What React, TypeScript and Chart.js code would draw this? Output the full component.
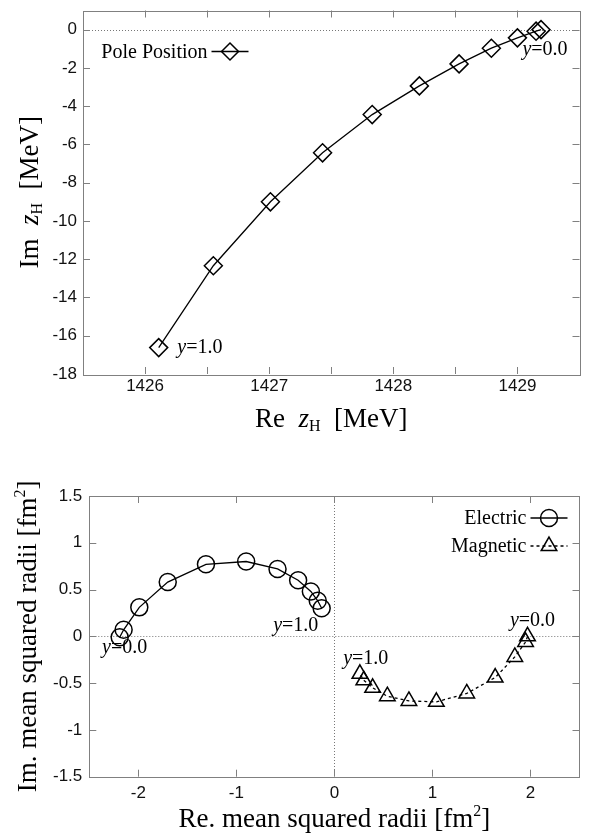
import React, { useEffect, useRef } from 'react';
import { Chart, registerables } from 'chart.js';

Chart.register(...registerables);

// ---------- data ----------
const poleRe = [1426.11, 1426.55, 1427.01, 1427.43, 1427.83, 1428.21, 1428.53, 1428.79, 1429.0, 1429.15, 1429.19];
const poleIm = [-16.62, -12.34, -9.0, -6.44, -4.44, -2.94, -1.79, -0.97, -0.43, -0.08, 0.0];

const elecRe = [-2.19, -2.15, -1.99, -1.7, -1.31, -0.9, -0.58, -0.37, -0.24, -0.17, -0.13];
const elecIm = [-0.01, 0.07, 0.31, 0.58, 0.77, 0.8, 0.72, 0.6, 0.48, 0.38, 0.3];
const magRe = [1.97, 1.95, 1.84, 1.64, 1.35, 1.04, 0.76, 0.54, 0.39, 0.3, 0.26];
const magIm = [0.0, -0.06, -0.22, -0.44, -0.61, -0.7, -0.69, -0.64, -0.55, -0.47, -0.4];

const topXTicks = [1425.5, 1426, 1426.5, 1427, 1427.5, 1428, 1428.5, 1429, 1429.5];
const topYTicks = [0, -2, -4, -6, -8, -10, -12, -14, -16, -18];
const botXTicks = [-2, -1, 0, 1, 2];
const botYTicks = [1.5, 1, 0.5, 0, -0.5, -1, -1.5];

const topNotes = [
  { x: 1429.04, y: -1.04, t: '=0.0' },
  { x: 1426.26, y: -16.64, t: '=1.0' },
];
const botNotes = [
  { x: -0.625, y: 0.118, t: '=1.0' },
  { x: -2.37, y: -0.118, t: '=0.0' },
  { x: 0.089, y: -0.235, t: '=1.0' },
  { x: 1.79, y: 0.171, t: '=0.0' },
];

// ---------- styling helpers ----------
const SERIF = '"Liberation Serif", "DejaVu Serif", "Times New Roman", serif';
const SANS = '"Liberation Sans", Arial, Helvetica, sans-serif';
const FRAME = '#808080';

type Seg = { t: string; italic?: boolean; size: number; dy?: number };

function drawRich(ctx: CanvasRenderingContext2D, segs: Seg[], x: number, y: number, align: 'left' | 'center' | 'right', baseline: CanvasTextBaseline = 'alphabetic') {
  ctx.save();
  ctx.textBaseline = baseline;
  ctx.textAlign = 'left';
  ctx.fillStyle = '#000';
  let total = 0;
  const widths = segs.map((s) => {
    ctx.font = `${s.italic ? 'italic ' : ''}${s.size}px ${SERIF}`;
    const w = ctx.measureText(s.t).width;
    total += w;
    return w;
  });
  let cx = align === 'left' ? x : align === 'center' ? x - total / 2 : x - total;
  segs.forEach((s, i) => {
    ctx.font = `${s.italic ? 'italic ' : ''}${s.size}px ${SERIF}`;
    ctx.fillText(s.t, cx, y + (s.dy || 0));
    cx += widths[i];
  });
  ctx.restore();
}

function marker(ctx: CanvasRenderingContext2D, kind: string, x: number, y: number, r: number) {
  ctx.beginPath();
  if (kind === 'diamond') {
    ctx.moveTo(x - r, y);
    ctx.lineTo(x, y - r);
    ctx.lineTo(x + r, y);
    ctx.lineTo(x, y + r);
    ctx.closePath();
  } else if (kind === 'circle') {
    ctx.arc(x, y, r, 0, Math.PI * 2);
  } else {
    for (let k = 0; k < 3; k++) {
      const a = (k * 2 * Math.PI) / 3;
      const px = x + Math.sin(a) * r;
      const py = y - Math.cos(a) * r;
      if (k === 0) ctx.moveTo(px, py);
      else ctx.lineTo(px, py);
    }
    ctx.closePath();
  }
  ctx.stroke();
}

type FrameCfg = {
  xTicks: number[];
  yTicks: number[];
  zeroX: boolean;
  zeroY: boolean;
  notes: { x: number; y: number; t: string }[];
  legend: { label: string; kind: string; r: number; dash: number[] }[];
  legendRight: number;
  legendTop: number;
  legendStep: number;
  xTitle: Seg[];
  xTitleY: number;
  yTitle: Seg[];
  yTitleX: number;
};

function makePlugin(cfg: FrameCfg) {
  return {
    id: 'gnuframe',
    beforeDatasetsDraw(chart: any) {
      const { ctx, chartArea: a, scales } = chart;
      const xs = scales.x;
      const ys = scales.y;
      ctx.save();
      // zero lines
      ctx.strokeStyle = '#777';
      ctx.lineWidth = 1;
      ctx.setLineDash([1, 2]);
      if (cfg.zeroY) {
        const py = Math.round(ys.getPixelForValue(0)) + 0.5;
        ctx.beginPath();
        ctx.moveTo(a.left, py);
        ctx.lineTo(a.right, py);
        ctx.stroke();
      }
      if (cfg.zeroX) {
        const px = Math.round(xs.getPixelForValue(0)) + 0.5;
        ctx.beginPath();
        ctx.moveTo(px, a.top);
        ctx.lineTo(px, a.bottom);
        ctx.stroke();
      }
      ctx.setLineDash([]);
      // frame
      ctx.strokeStyle = FRAME;
      ctx.lineWidth = 1;
      ctx.strokeRect(Math.round(a.left) + 0.5, Math.round(a.top) + 0.5, Math.round(a.right - a.left), Math.round(a.bottom - a.top));
      // inward ticks
      const L = 7;
      ctx.beginPath();
      cfg.xTicks.forEach((v) => {
        if (v <= xs.min || v >= xs.max) return;
        const px = Math.round(xs.getPixelForValue(v)) + 0.5;
        ctx.moveTo(px, a.bottom);
        ctx.lineTo(px, a.bottom - L);
        ctx.moveTo(px, a.top);
        ctx.lineTo(px, a.top + L);
      });
      cfg.yTicks.forEach((v) => {
        if (v <= ys.min || v >= ys.max) return;
        const py = Math.round(ys.getPixelForValue(v)) + 0.5;
        ctx.moveTo(a.left, py);
        ctx.lineTo(a.left + L, py);
        ctx.moveTo(a.right, py);
        ctx.lineTo(a.right - L, py);
      });
      ctx.stroke();
      ctx.restore();
    },
    afterDatasetsDraw(chart: any) {
      const { ctx, chartArea: a, scales } = chart;
      const xs = scales.x;
      const ys = scales.y;
      // annotations
      cfg.notes.forEach((n) => {
        drawRich(
          ctx,
          [
            { t: 'y', italic: true, size: 20 },
            { t: n.t, size: 20 },
          ],
          xs.getPixelForValue(n.x),
          ys.getPixelForValue(n.y),
          'left',
          'middle'
        );
      });
      // legend
      ctx.save();
      ctx.strokeStyle = '#000';
      cfg.legend.forEach((l, i) => {
        const cy = a.top + cfg.legendTop + i * cfg.legendStep;
        drawRich(ctx, [{ t: l.label, size: 20 }], a.right - cfg.legendRight, cy + 6, 'right');
        const x0 = a.right - cfg.legendRight + 4;
        const x1 = x0 + 37;
        ctx.lineWidth = 1.3;
        ctx.setLineDash(l.dash);
        ctx.beginPath();
        ctx.moveTo(x0, cy);
        ctx.lineTo(x1, cy);
        ctx.stroke();
        ctx.setLineDash([]);
        ctx.lineWidth = 1.5;
        marker(ctx, l.kind, (x0 + x1) / 2, cy, l.r);
      });
      ctx.restore();
      // titles
      drawRich(ctx, cfg.xTitle, (a.left + a.right) / 2, cfg.xTitleY, 'center');
      ctx.save();
      ctx.translate(cfg.yTitleX, (a.top + a.bottom) / 2);
      ctx.rotate(-Math.PI / 2);
      drawRich(ctx, cfg.yTitle, 0, 0, 'center');
      ctx.restore();
    },
  };
}

function axisOpts(min: number, max: number, tickVals: number[], horizontal: boolean, size: number, pad: number, labelFn: (v: number) => string) {
  return {
    type: 'linear' as const,
    min,
    max,
    grid: { display: false, drawTicks: false },
    border: { display: false },
    ticks: {
      padding: pad,
      autoSkip: false,
      maxRotation: 0,
      color: '#111',
      font: { family: SANS, size: 17 },
      callback: (v: any) => labelFn(Number(v)),
    },
    afterBuildTicks: (s: any) => {
      s.ticks = tickVals.map((v) => ({ value: v }));
    },
    afterFit: (s: any) => {
      if (horizontal) {
        s.height = size;
        s.paddingLeft = 0;
        s.paddingRight = 0;
      } else {
        s.width = size;
        s.paddingTop = 0;
        s.paddingBottom = 0;
      }
    },
  };
}

export default function App() {
  const ref1 = useRef<HTMLCanvasElement>(null);
  const ref2 = useRef<HTMLCanvasElement>(null);

  useEffect(() => {
    const c1 = new Chart(ref1.current as HTMLCanvasElement, {
      type: 'scatter',
      data: {
        datasets: [
          {
            label: 'Pole Position',
            data: poleRe.map((x, i) => ({ x, y: poleIm[i] })),
            showLine: true,
            borderColor: '#000',
            borderWidth: 1.3,
            pointStyle: 'rectRot',
            pointRadius: 9,
            pointBorderWidth: 1.5,
            pointBorderColor: '#000',
            pointBackgroundColor: 'rgba(0,0,0,0)',
            tension: 0,
            clip: false,
          } as any,
        ],
      },
      options: {
        responsive: false,
        animation: false,
        devicePixelRatio: 1,
        layout: { padding: { top: 3, right: 10, left: 0, bottom: 0 } },
        plugins: { legend: { display: false }, tooltip: { enabled: false } },
        scales: {
          x: axisOpts(1425.5, 1429.5, topXTicks, true, 66, 2, (v) => (Number.isInteger(v) ? String(v) : '')) as any,
          y: axisOpts(-18, 1, topYTicks, false, 83, 6, (v) => String(v)) as any,
        },
      },
      plugins: [
        makePlugin({
          xTicks: topXTicks,
          yTicks: topYTicks,
          zeroX: false,
          zeroY: true,
          notes: topNotes,
          legend: [{ label: 'Pole Position', kind: 'diamond', r: 8.5, dash: [] }],
          legendRight: 372,
          legendTop: 41,
          legendStep: 0,
          xTitle: [
            { t: 'Re  ', size: 27 },
            { t: 'z', italic: true, size: 27 },
            { t: 'H', size: 16, dy: 4 },
            { t: '  [MeV]', size: 27 },
          ],
          xTitleY: 427,
          yTitle: [
            { t: 'Im  ', size: 27 },
            { t: 'z', italic: true, size: 27 },
            { t: 'H', size: 16, dy: 4 },
            { t: '  [MeV]', size: 27 },
          ],
          yTitleX: 38,
        }) as any,
      ],
    });

    const c2 = new Chart(ref2.current as HTMLCanvasElement, {
      type: 'scatter',
      data: {
        datasets: [
          {
            label: 'Electric',
            data: elecRe.map((x, i) => ({ x, y: elecIm[i] })),
            showLine: true,
            borderColor: '#000',
            borderWidth: 1.3,
            pointStyle: 'circle',
            pointRadius: 8.5,
            pointBorderWidth: 1.5,
            pointBorderColor: '#000',
            pointBackgroundColor: 'rgba(0,0,0,0)',
            tension: 0,
            clip: false,
          } as any,
          {
            label: 'Magnetic',
            data: magRe.map((x, i) => ({ x, y: magIm[i] })),
            showLine: true,
            borderColor: '#000',
            borderWidth: 1.3,
            borderDash: [3, 3],
            pointStyle: 'triangle',
            pointRadius: 9,
            pointBorderWidth: 1.5,
            pointBorderColor: '#000',
            pointBackgroundColor: 'rgba(0,0,0,0)',
            tension: 0,
            clip: false,
          } as any,
        ],
      },
      options: {
        responsive: false,
        animation: false,
        devicePixelRatio: 1,
        layout: { padding: { top: 56, right: 10, left: 0, bottom: 0 } },
        plugins: { legend: { display: false }, tooltip: { enabled: false } },
        scales: {
          x: axisOpts(-2.5, 2.5, botXTicks, true, 62.3, 6, (v) => (Number.isInteger(v) ? String(v) : '')) as any,
          y: axisOpts(-1.5, 1.5, botYTicks, false, 89.3, 7, (v) => String(v)) as any,
        },
      },
      plugins: [
        makePlugin({
          xTicks: botXTicks,
          yTicks: botYTicks,
          zeroX: true,
          zeroY: true,
          notes: botNotes,
          legend: [
            { label: 'Electric', kind: 'circle', r: 8.5, dash: [] },
            { label: 'Magnetic', kind: 'triangle', r: 9, dash: [3, 3] },
          ],
          legendRight: 53,
          legendTop: 22,
          legendStep: 28,
          xTitle: [
            { t: 'Re. mean squared radii [fm', size: 27 },
            { t: '2', size: 16, dy: -11 },
            { t: ']', size: 27 },
          ],
          xTitleY: 387,
          yTitle: [
            { t: 'Im. mean squared radii [fm', size: 27 },
            { t: '2', size: 16, dy: -11 },
            { t: ']', size: 27 },
          ],
          yTitleX: 36,
        }) as any,
      ],
    });

    return () => {
      c1.destroy();
      c2.destroy();
    };
  }, []);

  return (
    <div style={{ position: 'absolute', left: 0, top: 0, width: 590, height: 839, background: '#fff' }}>
      <canvas ref={ref1} width={590} height={440} style={{ display: 'block', width: 590, height: 440 }} />
      <canvas ref={ref2} width={590} height={399} style={{ display: 'block', width: 590, height: 399 }} />
    </div>
  );
}
